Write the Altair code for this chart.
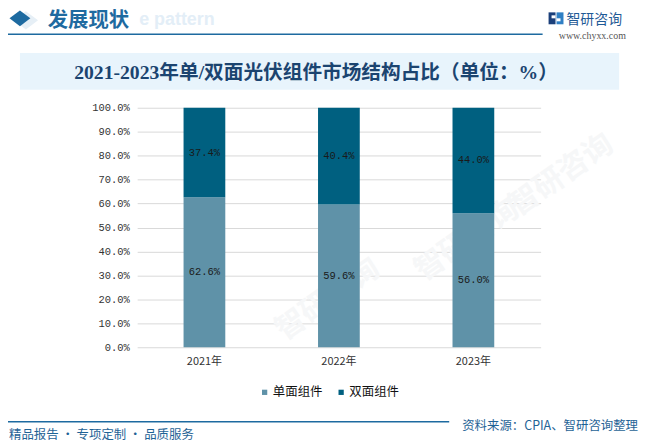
import altair as alt
import pandas as pd

years = ["2021年", "2022年", "2023年"]
types = ["单面组件", "双面组件"]
single = [62.6, 59.6, 56.0]
double = [37.4, 40.4, 44.0]
y_ticks = [0, 10, 20, 30, 40, 50, 60, 70, 80, 90, 100]
colors = ["#5f92a8", "#006080"]

rows = []
for i, yr in enumerate(years):
    rows.append({"year": yr, "type": types[0], "value": single[i], "order": 0})
    rows.append({"year": yr, "type": types[1], "value": double[i], "order": 1})
df = pd.DataFrame(rows)

W, H = 406, 241
OX, OY = 138, 107  # page position of plot origin
one = pd.DataFrame({"k": [0]})
CJK = "Noto Sans CJK SC"
MONO = "Liberation Mono"
BLUE = "#1f6396"


def txt(s, px, py, size, color, font=CJK, weight="normal", align="left",
        baseline="middle", angle=0, opacity=1.0):
    return alt.Chart(one).mark_text(
        text=s, align=align, baseline=baseline, fontSize=size, color=color,
        font=font, fontWeight=weight, angle=angle, opacity=opacity
    ).encode(x=alt.value(px - OX), y=alt.value(py - OY))


def rect(x1, y1, x2, y2, color):
    return alt.Chart(one).mark_rect(color=color).encode(
        x=alt.value(x1 - OX), x2=alt.value(x2 - OX),
        y=alt.value(y1 - OY), y2=alt.value(y2 - OY))


def rule(x1, x2, yy, color, w):
    return alt.Chart(one).mark_rule(color=color, strokeWidth=w).encode(
        x=alt.value(x1 - OX), x2=alt.value(x2 - OX), y=alt.value(yy - OY))


# faint watermarks (behind chart content, away from texts)
wm = []
for (px, py) in [(330, 300), (565, 175), (470, 240)]:
    wm.append(txt("智研咨询", px, py, 30, "#f6f7f8", angle=325, align="center", weight="bold"))

band = rect(20, 52, 623, 89, "#e8f4fc")
title = txt("2021-2023年单/双面光伏组件市场结构占比（单位：%）", 318, 72, 19.8, "#1b4470",
            font="Liberation Serif, " + CJK, weight="bold", align="center")

ghost = txt("e pattern", 140, 19, 18, "#e3eef7", font="Liberation Sans", weight="bold")
diamond_bg = alt.Chart(one).mark_point(shape="M-1,0L0,-0.75L1,0L0,0.75Z", filled=True, size=600,
                                       color="#e6eff6", opacity=1).encode(
    x=alt.value(26 - OX), y=alt.value(19 - OY))
diamond = alt.Chart(one).mark_point(shape="M-1,0L0,-0.75L1,0L0,0.75Z", filled=True, size=440,
                                    color="#1d6aa0", opacity=1).encode(
    x=alt.value(20 - OX), y=alt.value(17 - OY))
head = txt("发展现状", 48, 20, 20.5, "#1e6aa0", font="Liberation Serif, " + CJK, weight="bold")
hline = rule(0, 546, 33, "#1d6aa0", 1.5)

logo1 = rect(552, 11, 559, 23, "#1b3f7a")
logo2 = rect(560, 11, 567, 23, "#2f7fc4")
logo3 = rect(555, 14, 559, 17, "#ffffff")
logo4 = rect(560, 17, 564, 20, "#ffffff")
logo_t = txt("智研咨询", 570, 19, 14, "#1f5a96")
web = txt("www.chyxx.com", 596, 35, 10, "#555555", font="Liberation Serif", align="center")

fline = rule(0, 452, 423, "#1d6aa0", 1.5)
src = txt("资料来源：CPIA、智研咨询整理", 642, 427, 12.5, BLUE, align="right")
slogan = txt("精品报告 · 专项定制 · 品质服务", 9, 436, 12.5, BLUE)


def y_axis():
    return alt.Axis(title=None, values=y_ticks, tickCount=11,
                    labelExpr="format(datum.value, '.1f') + '%'",
                    domain=False, ticks=False, labelPadding=8, gridColor="#d9d9d9",
                    labelOverlap=False, labelFont=MONO, labelFontSize=10.5,
                    labelColor="#333333")


def x_axis():
    return alt.Axis(title=None, labelAngle=0, domain=False, ticks=False, labelPadding=8,
                    labelFont=CJK, labelFontSize=11, labelColor="#333333")


y_scale = alt.Scale(domain=[0, 100], nice=False)
x_scale = alt.Scale(paddingInner=0, paddingOuter=0)

base = alt.Chart(df)
bars = base.mark_bar(size=42).encode(
    x=alt.X("year:N", sort=years, scale=x_scale, axis=x_axis()),
    y=alt.Y("value:Q", stack="zero", scale=y_scale, axis=y_axis()),
    color=alt.Color("type:N", scale=alt.Scale(domain=types, range=colors),
                    legend=alt.Legend(orient="none", legendX=122, legendY=280, direction="horizontal",
                                      title=None, symbolType="square", symbolSize=28,
                                      symbolStrokeWidth=0, labelFont=CJK, labelFontSize=12.5,
                                      labelColor="#111111", columnPadding=12, labelOffset=2)),
    order=alt.Order("order:Q"),
)

labels = base.transform_stack(
    stack="value", groupby=["year"], as_=["y0", "y1"], sort=[alt.SortField("order")]
).transform_calculate(
    mid="(datum.y0 + datum.y1) / 2",
    lab="format(datum.value, '.1f') + '%'",
).mark_text(font=MONO, fontSize=10.5, color="#1a1a1a").encode(
    x=alt.X("year:N", sort=years, scale=x_scale, axis=x_axis()),
    y=alt.Y("mid:Q", scale=y_scale, axis=y_axis()),
    text="lab:N",
)

chart = alt.layer(
    *wm, band, title, ghost, diamond_bg, diamond, head, hline, logo1, logo2, logo3, logo4,
    logo_t, web, fline, src, slogan, bars, labels
).properties(
    width=W, height=H,
    autosize=alt.AutoSizeParams(type="none"),
    padding={"left": 130, "top": 99, "right": 99, "bottom": 98},
    background="white",
).configure_view(stroke=None)

chart.save("out.html", embed_options={"renderer": "svg", "actions": False})
